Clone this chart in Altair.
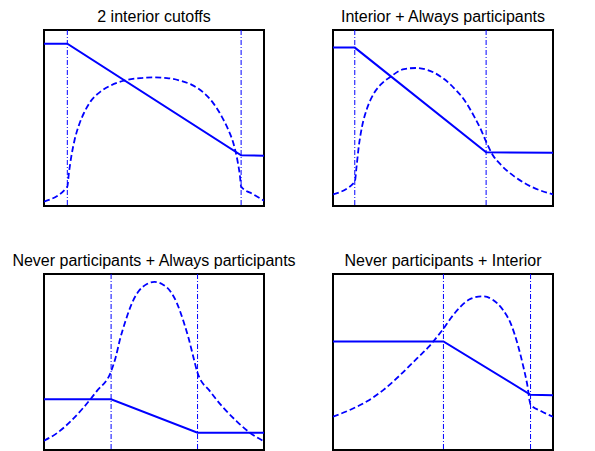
import altair as alt
import pandas as pd

BLUE = "#0000ff"

titles = [
    "2 interior cutoffs",
    "Interior + Always participants",
    "Never participants + Always participants",
    "Never participants + Interior",
]

# cutoffs (x positions of the dash-dot vertical lines), on a 0-100 scale
cutoffs = [
    [10.6, 89.6],
    [9.9, 69.6],
    [30.5, 69.8],
    [50.2, 89.8],
]

# solid piecewise-linear line
solid_x = [
    [0, 10.6, 89.6, 100],
    [0, 9.9, 69.6, 100],
    [0, 30.5, 69.8, 100],
    [0, 50.2, 89.8, 100],
]
solid_y = [
    [92.2, 92.2, 28.8, 28.6],
    [90.0, 90.0, 30.5, 30.3],
    [28.8, 28.8, 9.8, 9.8],
    [61.7, 61.7, 31.4, 31.1],
]

# dashed curve
dash_x = [
    [0, 10.6, 11.3, 12.4, 13.9, 15.9, 18.1, 21.1, 25.7, 30.2, 36.3, 43.8, 49.8,
     55.9, 61.9, 67.2, 72.5, 77.0, 80.8, 83.8, 86.1, 87.9, 89.1, 89.6, 95.2, 100],
    [0, 9.9, 10.7, 11.7, 13.2, 15.5, 18.6, 22.4, 26.2, 32.3, 37.6, 42.9, 49.0,
     55.1, 59.7, 64.2, 67.3, 69.6, 72.6, 76.4, 82.5, 90.1, 100],
    [0, 6.0, 12.1, 17.8, 23.9, 30.5, 32.5, 34.7, 37.0, 40.0, 43.0, 46.8, 50.2,
     53.6, 57.4, 60.4, 63.4, 65.7, 68.0, 69.8, 75.5, 81.6, 87.6, 93.7, 100],
    [0, 7.9, 15.5, 23.1, 30.7, 38.4, 43.7, 47.5, 50.2, 53.6, 58.1, 62.7, 68.0,
     72.6, 77.2, 81.0, 84.0, 86.3, 88.3, 89.8, 94.7, 100],
]
dash_y = [
    [2.5, 11.0, 18.6, 28.0, 37.5, 46.0, 52.7, 59.3, 65.0, 68.4, 71.2, 72.7, 73.1,
     72.7, 71.2, 68.8, 64.4, 58.3, 50.8, 43.2, 35.6, 26.1, 16.7, 11.0, 6.6, 3.0],
    [6.6, 13.8, 22.3, 33.7, 45.1, 55.5, 64.0, 69.8, 73.5, 77.8, 78.4, 77.3, 73.5,
     66.9, 60.2, 50.8, 43.2, 36.6, 29.0, 23.3, 16.7, 11.0, 6.6],
    [5.3, 9.7, 16.3, 23.9, 33.3, 44.7, 52.3, 63.6, 73.1, 83.5, 90.2, 94.3, 95.5,
     94.3, 90.2, 83.5, 73.1, 63.6, 52.3, 43.8, 33.3, 23.9, 16.3, 9.7, 4.9],
    [18.9, 22.9, 27.7, 34.3, 42.8, 52.3, 58.9, 64.6, 68.9, 75.0, 81.6, 86.0, 87.3,
     85.4, 79.7, 71.2, 59.8, 48.5, 37.1, 25.8, 22.0, 18.9],
]

W, H = 220, 176
xs = alt.Scale(domain=[0, 100], nice=False, zero=False)
ys = alt.Scale(domain=[0, 100], nice=False, zero=False)


def panel(i):
    sd = pd.DataFrame({"x": solid_x[i], "y": solid_y[i]})
    dd = pd.DataFrame({"x": dash_x[i], "y": dash_y[i]})
    cd = pd.DataFrame({"x": cutoffs[i]})
    solid = alt.Chart(sd).mark_line(color=BLUE, strokeWidth=2, clip=True).encode(
        x=alt.X("x:Q", scale=xs, axis=None), y=alt.Y("y:Q", scale=ys, axis=None)
    )
    dashed = alt.Chart(dd).mark_line(
        color=BLUE, strokeWidth=1.8, strokeDash=[6, 3], interpolate="monotone", clip=True
    ).encode(x=alt.X("x:Q", scale=xs, axis=None), y=alt.Y("y:Q", scale=ys, axis=None))
    rules = alt.Chart(cd).mark_rule(color=BLUE, strokeWidth=1, strokeDash=[5, 2, 1, 2]).encode(
        x=alt.X("x:Q", scale=xs, axis=None)
    )
    return alt.layer(rules, dashed, solid).properties(
        width=W,
        height=H,
        title=alt.TitleParams(
            titles[i], fontSize=16, font="Liberation Sans", fontWeight="normal",
            color="black", anchor="middle", baseline="alphabetic", offset=-8,
        ),
    )


chart = alt.concat(
    panel(0), panel(1), panel(2), panel(3),
    columns=2, spacing={"row": 68, "column": 69}, bounds="flush",
).properties(
    autosize=alt.AutoSizeParams(type="none"),
    padding={"left": 36, "top": 22, "right": 540, "bottom": 421},
).configure_view(stroke="black", strokeWidth=2)

chart.save("out.html", embed_options={"renderer": "svg", "actions": False})
